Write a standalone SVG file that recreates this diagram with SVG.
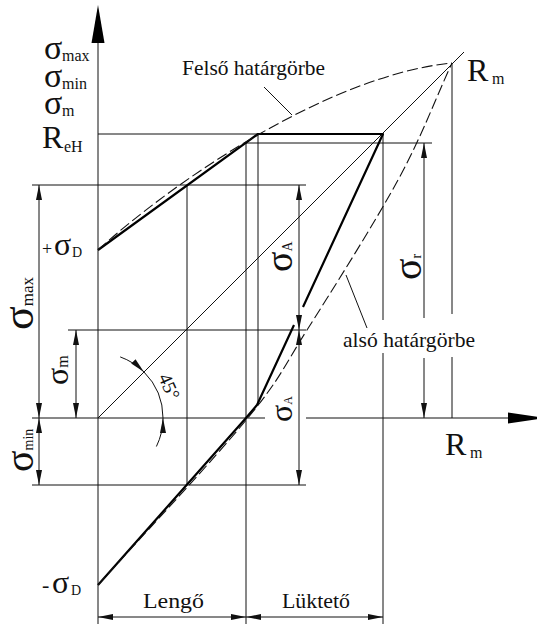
<svg xmlns="http://www.w3.org/2000/svg" width="537" height="624" viewBox="0 0 537 624">
<style>
.t{stroke:#111;stroke-width:1;fill:none}
.k{stroke:#000;stroke-width:2.2;fill:none;stroke-linejoin:round}
.d{stroke:#111;stroke-width:1.1;fill:none;stroke-dasharray:11 4}
.dim{stroke:#111;stroke-width:1;fill:none;marker-start:url(#a);marker-end:url(#a)}
.de{stroke:#111;stroke-width:1;fill:none;marker-end:url(#a)}
.ds{stroke:#111;stroke-width:1;fill:none;marker-start:url(#a)}
.lb{font-family:'Liberation Serif',serif;fill:#111}
</style>
<defs>
<marker id="a" markerUnits="userSpaceOnUse" markerWidth="16" markerHeight="8" refX="15" refY="3" orient="auto-start-reverse" viewBox="0 0 16 6">
<path d="M0,0 L15,3 L0,6 z" fill="#111"/>
</marker>
</defs>
<rect width="537" height="624" fill="#fff"/>
<g id="axes">
<line class="t" x1="98" y1="40" x2="98" y2="624"/>
<polygon points="98,5 91.5,43 104.5,43" fill="#000"/>
<line class="t" x1="32" y1="418" x2="265" y2="418"/>
<line class="t" x1="306" y1="418" x2="510" y2="418"/>
<polygon points="546,418 508,412.5 508,423.5" fill="#000"/>
</g>
<g id="connectors">
<line class="t" x1="98" y1="134" x2="383" y2="134"/>
<line class="t" x1="246" y1="143" x2="432" y2="143"/>
<line class="t" x1="32" y1="185" x2="306" y2="185"/>
<line class="t" x1="68" y1="330" x2="306" y2="330"/>
<line class="t" x1="32" y1="485" x2="306" y2="485"/>
<line class="t" x1="187" y1="185" x2="187" y2="485"/>
<line class="t" x1="246" y1="143" x2="246" y2="624"/>
<line class="t" x1="258" y1="134" x2="258" y2="405"/>
<line class="t" x1="383" y1="134" x2="383" y2="320"/>
<line class="t" x1="383" y1="353" x2="383" y2="624"/>
<line class="t" x1="452" y1="63" x2="452" y2="314"/>
<line class="t" x1="452" y1="357" x2="452" y2="418"/>
<line class="t" x1="98" y1="418" x2="464" y2="52"/>
<line class="t" x1="264" y1="87" x2="292" y2="115"/>
<line class="t" x1="367" y1="328" x2="346" y2="275"/>
<path class="k" d="M98,250 L258,134 L383,134 L303,307"/>
<path class="k" d="M294,325 L257,405 L246,418 L98,585"/>
<path class="d" d="M98,250 C175,180 330,75 452,63"/>
<path class="d" d="M98,585 C147.7,529.7 212.2,461.5 247,419 C281.8,376.5 281.8,369.8 307,330 C332.2,290.2 373.8,224.5 398,180 C422.2,135.5 434,102 452,63"/>
<line class="dim" x1="39" y1="185" x2="39" y2="418"/>
<line class="dim" x1="39" y1="418" x2="39" y2="485"/>
<line class="dim" x1="76" y1="330" x2="76" y2="418"/>
<line class="dim" x1="299" y1="185" x2="299" y2="330"/>
<line class="dim" x1="299" y1="330" x2="299" y2="485"/>
<line class="ds" x1="424" y1="143" x2="424" y2="318"/>
<line class="de" x1="424" y1="358" x2="424" y2="418"/>
<line class="dim" x1="98" y1="617" x2="246" y2="617"/>
<line class="dim" x1="246" y1="617" x2="383" y2="617"/>
<path class="de" d="M120.2,356.9 A65,65 0 0 1 144,372"/>
<path class="t" d="M144,372 A65,65 0 0 1 163,418"/>
<path class="de" d="M156.4,446.5 A65,65 0 0 0 163,418"/>
</g>
<g id="left-labels" class="lb" font-family="Liberation Serif, serif">
<text x="44" y="59" font-size="34">σ</text><text x="62" y="61" font-size="16">max</text>
<text x="44" y="87" font-size="34">σ</text><text x="62" y="89" font-size="16">min</text>
<text x="44" y="114" font-size="34">σ</text><text x="62" y="116" font-size="16">m</text>
<text x="42" y="148" font-size="32">R</text><text x="64" y="152" font-size="16">eH</text>
<text x="42" y="255" font-size="18">+</text><text x="54" y="255" font-size="32">σ</text><text x="72" y="257" font-size="14">D</text>
<text x="42" y="592" font-size="22">-</text><text x="52" y="593" font-size="32">σ</text><text x="71" y="595" font-size="14">D</text>
</g>
<g id="rotated-labels" class="lb" font-family="Liberation Serif, serif">
<text transform="translate(33,330) rotate(-90)"><tspan font-size="44">σ</tspan><tspan font-size="17">max</tspan></text>
<text transform="translate(68,385) rotate(-90)"><tspan font-size="32">σ</tspan><tspan font-size="16">m</tspan></text>
<text transform="translate(33,472) rotate(-90)"><tspan font-size="40">σ</tspan><tspan font-size="14">min</tspan></text>
<text transform="translate(292,272) rotate(-90)"><tspan font-size="38">σ</tspan><tspan font-size="14">A</tspan></text>
<text transform="translate(292,422) rotate(-90)"><tspan font-size="32">σ</tspan><tspan font-size="12">A</tspan></text>
<text transform="translate(421,280) rotate(-90)"><tspan font-size="40">σ</tspan><tspan font-size="14">r</tspan></text>
<text transform="translate(158,377) rotate(66)" font-size="19">45°</text>
</g>
<g id="curve-labels" class="lb" font-family="Liberation Serif, serif">
<text x="182" y="75" font-size="21.5" textLength="143" lengthAdjust="spacingAndGlyphs">Felső határgörbe</text>
<text x="343" y="347" font-size="21.5" textLength="132" lengthAdjust="spacingAndGlyphs">alsó határgörbe</text>
</g>
<g id="rm-labels" class="lb" font-family="Liberation Serif, serif">
<text x="467" y="81" font-size="32">R</text><text x="492" y="84" font-size="16">m</text>
<text x="445" y="455" font-size="32">R</text><text x="470" y="458" font-size="16">m</text>
</g>
<g id="bottom-labels" class="lb" font-family="Liberation Serif, serif">
<text x="143" y="608" font-size="21" textLength="61" lengthAdjust="spacingAndGlyphs">Lengő</text>
<text x="282" y="608" font-size="21" textLength="68" lengthAdjust="spacingAndGlyphs">Lüktető</text>
</g>
</svg>
